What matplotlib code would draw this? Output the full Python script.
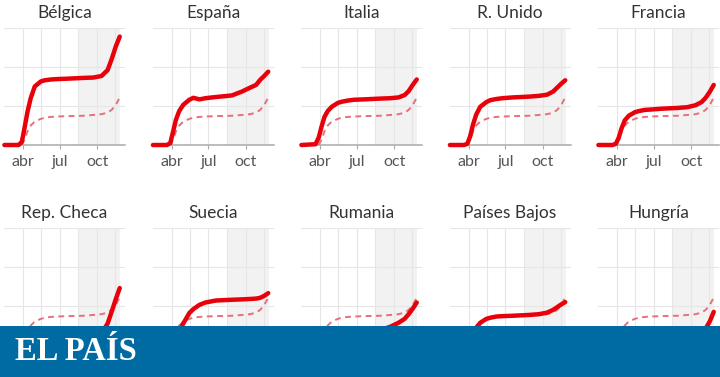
import matplotlib
matplotlib.use("Agg")
import matplotlib.pyplot as plt
import numpy as np

plt.rcParams['font.family'] = ['Lato', 'DejaVu Sans']

# dia del año de cada punto leido
dias = [45, 80, 88, 95, 102, 110, 120, 135, 145, 160, 175, 200, 240, 265, 285, 300, 310, 320, 330]

paises = ['Bélgica', 'España', 'Italia', 'R. Unido', 'Francia',
          'Rep. Checa', 'Suecia', 'Rumania', 'Países Bajos', 'Hungría']

belgica = [0, 0, 0.08, 0.45, 0.85, 1.2, 1.5, 1.63, 1.66, 1.68, 1.69, 1.70, 1.72, 1.73, 1.77, 1.92, 2.2, 2.52, 2.78]
espana = [0, 0, 0.05, 0.35, 0.65, 0.87, 1.03, 1.16, 1.21, 1.17, 1.2, 1.23, 1.27, 1.37, 1.47, 1.54, 1.67, 1.77, 1.88]
italia = [0, 0.02, 0.2, 0.48, 0.72, 0.87, 0.98, 1.08, 1.11, 1.14, 1.16, 1.17, 1.19, 1.2, 1.22, 1.28, 1.38, 1.54, 1.68]
reino_unido = [0, 0, 0.03, 0.22, 0.52, 0.78, 0.98, 1.1, 1.15, 1.18, 1.2, 1.22, 1.24, 1.26, 1.29, 1.37, 1.47, 1.57, 1.66]
francia = [0, 0, 0.03, 0.18, 0.42, 0.63, 0.75, 0.84, 0.87, 0.9, 0.91, 0.93, 0.95, 0.97, 1.02, 1.1, 1.21, 1.36, 1.54]
rep_checa = [0, 0, 0.005, 0.01, 0.015, 0.02, 0.025, 0.03, 0.03, 0.03, 0.03, 0.035, 0.05, 0.12, 0.3, 0.55, 0.85, 1.17, 1.46]
suecia = [0, 0, 0.03, 0.1, 0.2, 0.35, 0.55, 0.82, 0.92, 1.03, 1.09, 1.14, 1.16, 1.17, 1.18, 1.19, 1.21, 1.26, 1.33]
rumania = [0, 0, 0.005, 0.02, 0.04, 0.06, 0.08, 0.1, 0.12, 0.15, 0.19, 0.27, 0.38, 0.47, 0.57, 0.67, 0.79, 0.93, 1.09]
paises_bajos = [0, 0, 0.04, 0.15, 0.3, 0.44, 0.57, 0.67, 0.7, 0.73, 0.74, 0.75, 0.77, 0.79, 0.83, 0.9, 0.97, 1.04, 1.1]
hungria = [0, 0, 0.002, 0.01, 0.02, 0.03, 0.04, 0.05, 0.055, 0.06, 0.062, 0.065, 0.08, 0.12, 0.2, 0.3, 0.42, 0.6, 0.85]

# media europea (linea discontinua)
media_ue = [np.nan, np.nan, 0.0, 0.15, 0.35, 0.5, 0.6, 0.67, 0.7, 0.72, 0.73, 0.74, 0.75, 0.77, 0.79, 0.83, 0.9, 1.02, 1.22]

series = [belgica, espana, italia, reino_unido, francia,
          rep_checa, suecia, rumania, paises_bajos, hungria]

meses_pos = [91, 182, 274]
meses_lab = ['abr', 'jul', 'oct']
grid_x = [91, 136.5, 182, 228, 274, 319.5]

W, H = 720, 377
fig = plt.figure(figsize=(W / 100, H / 100), dpi=100)

for i, (nombre, vals) in enumerate(zip(paises, series)):
    fila, col = divmod(i, 5)
    left = 4 + 148.5 * col
    top = 28 if fila == 0 else 228
    ax = fig.add_axes([left / W, 1 - (top + 117) / H, 121 / W, 117 / H])
    ax.set_xlim(44, 343)
    ax.set_ylim(0, 3)
    ax.axvspan(228, 331, color='#f2f2f2', lw=0, zorder=0)
    for gx in grid_x:
        ax.axvline(gx, color='#e6e6e6', lw=0.8, zorder=1)
    for gy in [1, 2, 3]:
        ax.axhline(gy, color='#e6e6e6', lw=0.8, zorder=1)
    ax.plot(dias, media_ue, color='#e6707a', lw=1.4, dashes=(3, 2.3), zorder=3, clip_on=False)
    ax.plot(dias, vals, color='#e8000b', lw=3.2, solid_capstyle='round',
            solid_joinstyle='round', zorder=4, clip_on=False)
    for s in ['top', 'left', 'right']:
        ax.spines[s].set_visible(False)
    ax.spines['bottom'].set_color('#aaaaaa')
    ax.spines['bottom'].set_linewidth(1.1)
    ax.spines['bottom'].set_zorder(2)
    ax.set_yticks([])
    ax.set_xticks(meses_pos)
    if fila == 0:
        ax.set_xticklabels(meses_lab)
    else:
        # quedan tapadas por la franja del logo
        ax.set_xticklabels([])
    ax.tick_params(axis='x', length=3, color='#aaaaaa', labelsize=11.5,
                   labelcolor='#555555', pad=4)
    ax.set_facecolor('none')
    ax.set_title(nombre, fontsize=12.5, color='#333333', pad=7)

# franja inferior con el logo
banner = fig.add_axes([0, 0, 1, 51 / H])
banner.set_facecolor('#006ba3')
banner.set_xticks([])
banner.set_yticks([])
for s in banner.spines.values():
    s.set_visible(False)
banner.text(15 / W, 0.5, 'EL PAÍS', transform=banner.transAxes, ha='left', va='center',
            color='white', fontsize=23.5, fontweight='bold', family='Liberation Serif')

fig.savefig('out.png', dpi=100)
